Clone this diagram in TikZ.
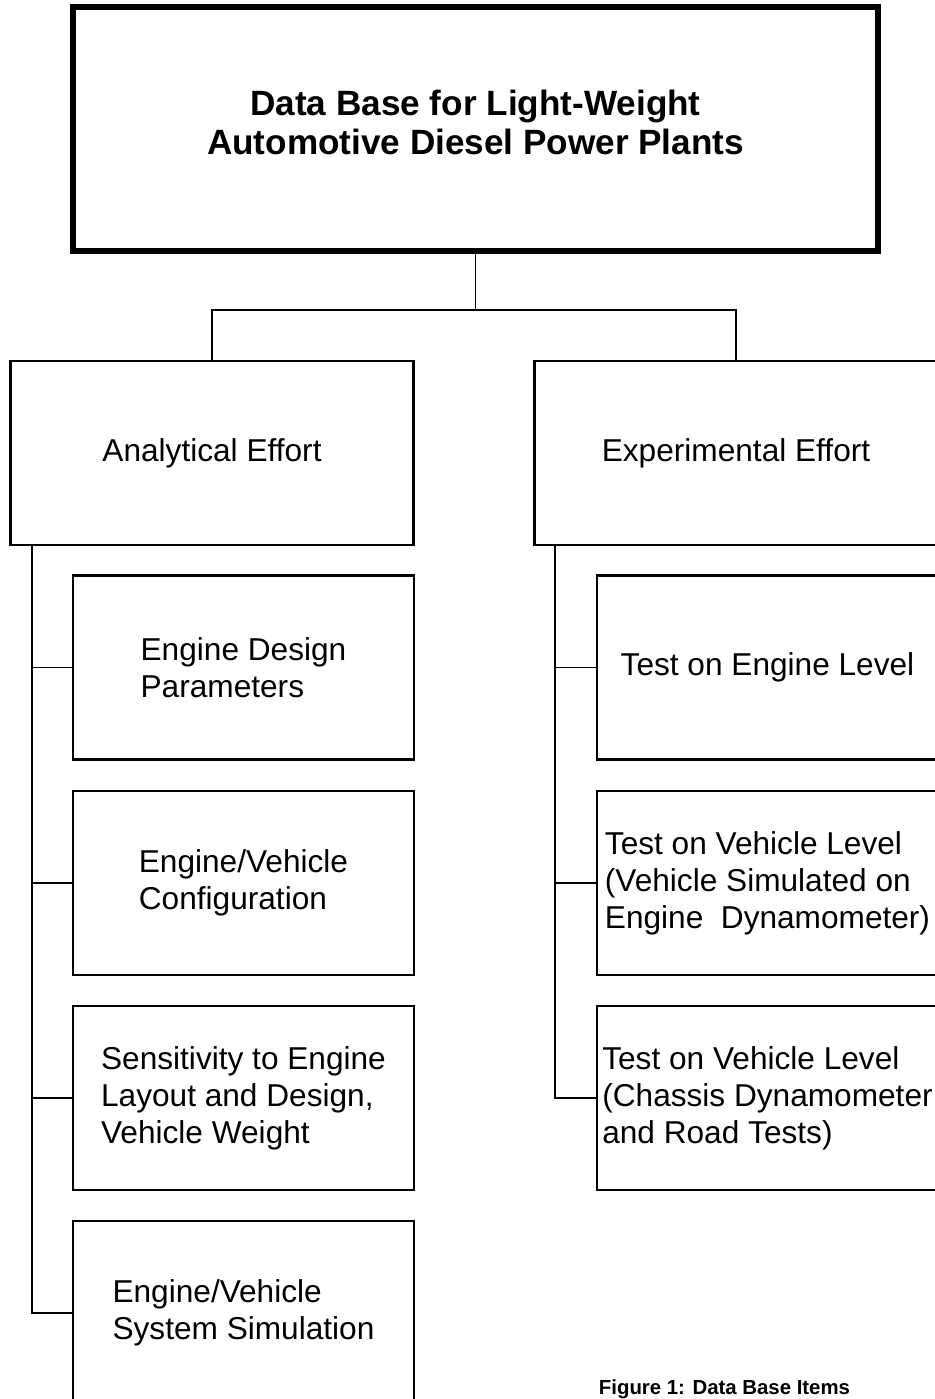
\documentclass[tikz,border=0pt]{standalone}
\usepackage{fontspec}
\setmainfont{Liberation Sans}

\begin{document}
\begin{tikzpicture}[x=0.02cm, y=-0.02cm, line width=1.1pt]
	\tikzstyle{box}=[draw=black, line width=1.4pt, minimum width=6.82cm, minimum height=3.68cm, align=left, inner sep=0pt, font=\fontsize{18}{21}\selectfont]
	\tikzstyle{effort}=[box, minimum width=8.06cm]
	\tikzstyle{link}=[draw=black, line width=1.1pt]

	\useasboundingbox (0,0) rectangle (934,1399);

	% Draw title box
	\node[box, line width=3pt, minimum width=16.1cm, minimum height=4.88cm, text depth=0.28cm, align=center, font=\fontsize{20}{22}\selectfont\bfseries] (title) at (475.5,129) {Data Base for Light-Weight\\Automotive Diesel Power Plants};

	% Draw the two efforts
	\node[effort] (analytical) at (212,453) {Analytical Effort};
	\node[effort] (experimental) at (736,453) {Experimental Effort};

	% Draw analytical items
	\node[box] (design) at (243.5,667.5) {Engine Design\\Parameters};
	\node[box] (config) at (243.5,883) {Engine/Vehicle\\Configuration};
	\node[box] (sensitivity) at (243.5,1098) {Sensitivity to Engine\\Layout and Design,\\Vehicle Weight};
	\node[box] (simulation) at (243.5,1313) {Engine/Vehicle\\System Simulation};

	% Draw experimental items
	\node[box] (enginetest) at (767.5,667.5) {Test on Engine Level};
	\node[box] (vehsim) at (767.5,883) {Test on Vehicle Level\\(Vehicle Simulated on\\Engine\ \ Dynamometer)};
	\node[box] (vehroad) at (767.5,1098) {Test on Vehicle Level\\(Chassis Dynamometer\\and Road Tests)};

	% Caption
	\node[anchor=base west, inner sep=0pt, font=\fontsize{11.6}{13}\selectfont\bfseries] (caption) at (598,1394) {Figure 1: Data Base Items};

	% Draw connections
	\draw[link] (title.south) -- ++(0,56) coordinate (split);
	\draw[link] (analytical.north) |- (split) -| (experimental.north);

	\coordinate (aspine) at (32,545);
	\coordinate (espine) at (555,545);
	\draw[link] (aspine) |- (simulation.west);
	\foreach \n in {design,config,sensitivity}
		\draw[link] (aspine |- \n.west) -- (\n.west);
	\draw[link] (espine) |- (vehroad.west);
	\foreach \n in {enginetest,vehsim}
		\draw[link] (espine |- \n.west) -- (\n.west);

\end{tikzpicture}
\end{document}
